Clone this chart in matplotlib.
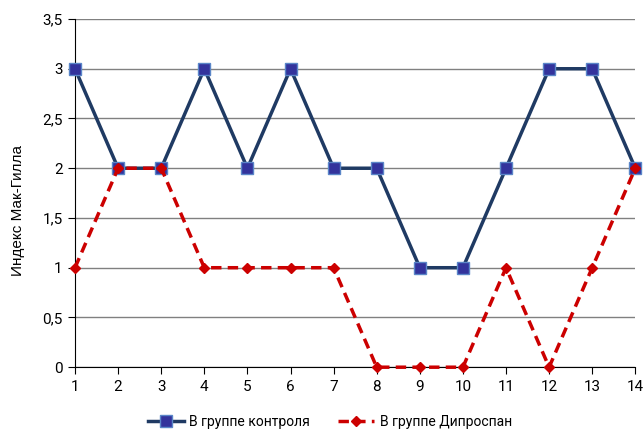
import matplotlib
matplotlib.use('Agg')
from matplotlib import pyplot as plt
from matplotlib.ticker import FuncFormatter

# данные
x = list(range(1, 15))
control = [3, 2, 2, 3, 2, 3, 2, 2, 1, 1, 2, 3, 3, 2]
diprospan = [1, 2, 2, 1, 1, 1, 1, 0, 0, 0, 1, 0, 1, 2]
labels = ['В группе контроля', 'В группе Дипроспан']

plt.rcParams['font.family'] = ['Roboto', 'DejaVu Sans']

fig = plt.figure(figsize=(6.44, 4.32), dpi=100)
ax = fig.add_axes([0.1165, 0.150, 0.870, 0.806])

ax.plot(x, control, color='#1F3A63', linewidth=2.5, marker='s', markersize=8,
        markerfacecolor='#33339C', markeredgecolor='#5A86C8', markeredgewidth=1,
        label=labels[0], zorder=3, clip_on=False)
ax.plot(x, diprospan, color='#CC0000', linewidth=2.5, linestyle=(0, (3, 1.8)),
        marker='D', markersize=5.5, markerfacecolor='#CC0000', markeredgecolor='#CC0000',
        label=labels[1], zorder=4, clip_on=False)

ax.set_xlim(1, 14)
ax.set_ylim(0, 3.5)
ax.set_xticks(x)
ax.set_yticks([0, 0.5, 1, 1.5, 2, 2.5, 3, 3.5])
ax.yaxis.set_major_formatter(FuncFormatter(lambda v, p: ('%g' % v).replace('.', ',')))
ax.grid(axis='y', color='#808080', linewidth=1)
ax.set_axisbelow(True)
for s in ['top', 'right']:
    ax.spines[s].set_visible(False)
ax.spines['left'].set_color('black')
ax.spines['bottom'].set_color('black')
ax.tick_params(axis='both', labelsize=11, length=5, direction='out', pad=4)

# подпись оси Y
fig.text(18 / 644, 1 - 210 / 432, 'Индекс Мак-Гилла', rotation=90, fontsize=11,
         family='Liberation Sans', ha='center', va='center')

fig.legend(loc='center', bbox_to_anchor=(0.512, 1 - 422 / 432), ncol=2, frameon=False,
           fontsize=10, handlelength=2.6, handletextpad=0.4, columnspacing=2.0)

fig.savefig('out.png', dpi=100)
